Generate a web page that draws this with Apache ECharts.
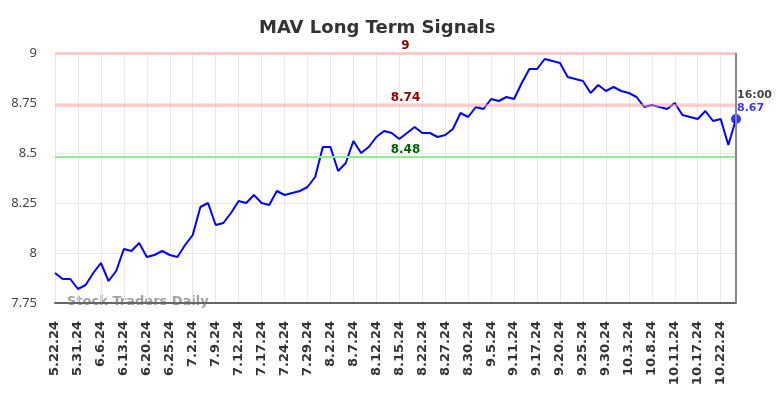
<!DOCTYPE html>
<html><head><meta charset="utf-8">
<script src="https://cdn.jsdelivr.net/npm/echarts@6/dist/echarts.min.js"></script>
<style>html,body{margin:0;padding:0;background:#fff}#c{width:784px;height:398px}</style>
</head><body><div id="c"></div>
<script>
var categories = ["5.22.24","5.24.24","5.29.24","5.31.24","6.3.24","6.5.24","6.6.24","6.10.24","6.11.24","6.13.24",
"6.14.24","6.18.24","6.20.24","6.21.24","6.24.24","6.25.24","6.27.24","7.1.24","7.2.24","7.3.24",
"7.8.24","7.9.24","7.10.24","7.11.24","7.12.24","7.15.24","7.16.24","7.17.24","7.19.24","7.22.24",
"7.24.24","7.25.24","7.26.24","7.29.24","7.30.24","8.1.24","8.2.24","8.5.24","8.6.24","8.7.24",
"8.8.24","8.9.24","8.12.24","8.13.24","8.14.24","8.15.24","8.19.24","8.20.24","8.22.24","8.23.24",
"8.26.24","8.27.24","8.28.24","8.29.24","8.30.24","9.3.24","9.4.24","9.5.24","9.9.24","9.10.24",
"9.11.24","9.13.24","9.16.24","9.17.24","9.18.24","9.19.24","9.20.24","9.23.24","9.24.24","9.25.24",
"9.26.24","9.27.24","9.30.24","10.1.24","10.2.24","10.3.24","10.4.24","10.7.24","10.8.24","10.9.24",
"10.10.24","10.11.24","10.14.24","10.16.24","10.17.24","10.18.24","10.21.24","10.22.24","10.24.24","10.25.24"];
var prices = [7.90,7.87,7.87,7.82,7.84,7.90,7.95,7.86,7.91,8.02,
8.01,8.05,7.98,7.99,8.01,7.99,7.98,8.04,8.09,8.23,
8.25,8.14,8.15,8.20,8.26,8.25,8.29,8.25,8.24,8.31,
8.29,8.30,8.31,8.33,8.38,8.53,8.53,8.41,8.45,8.56,
8.50,8.53,8.58,8.61,8.60,8.57,8.60,8.63,8.60,8.60,
8.58,8.59,8.62,8.70,8.68,8.73,8.72,8.77,8.76,8.78,
8.77,8.85,8.92,8.92,8.97,8.96,8.95,8.88,8.87,8.86,
8.80,8.84,8.81,8.83,8.81,8.80,8.78,8.73,8.74,8.73,
8.72,8.75,8.69,8.68,8.67,8.71,8.66,8.67,8.54,8.67];
var resistanceLevels = [9, 8.74];
var supportLevels = [8.48];
var yTicks = [7.75, 9, 0.25]; // min, max, interval
var lastTime = "16:00";
var lastValue = 8.67;

var chart = echarts.init(document.getElementById('c'));
var n = categories.length;
var markData = [];
var lblBase = {show:true, position:'insideMiddleTop', distance:0, offset:[10,-1], fontWeight:'bold', fontSize:12, fontFamily:'DejaVu Sans'};
resistanceLevels.forEach(function(v){
  markData.push({yAxis: v, lineStyle:{color:'rgba(255,160,160,0.5)', width:3, type:'solid'},
    label:Object.assign({}, lblBase, {formatter:String(v), color:'#8b0000'})});
});
supportLevels.forEach(function(v){
  markData.push({yAxis: v, lineStyle:{color:'#90ee90', width:2, type:'solid'},
    label:Object.assign({}, lblBase, {formatter:String(v), color:'#006400'})});
});
markData.push({xAxis: categories[n-1], lineStyle:{color:'#888', width:2, type:'solid'}, label:{show:false}});

chart.setOption({
  animation:false,
  title:{text:'MAV Long Term Signals', left:254, top:14,
    textStyle:{fontSize:18, fontWeight:'bold', color:'#333', fontFamily:'DejaVu Sans'}},
  grid:{left:55, right:48, top:53, bottom:95},
  xAxis:{type:'category', data:categories, boundaryGap:false,
    axisLine:{lineStyle:{color:'#666', width:2}},
    axisTick:{show:false},
    axisLabel:{interval:2, rotate:90, margin:18, fontSize:13, fontWeight:'bold', color:'#333', fontFamily:'DejaVu Sans'},
    splitLine:{show:true, interval:2, lineStyle:{color:'#e8e8e8', width:1}}},
  yAxis:{type:'value', min:yTicks[0], max:yTicks[1], interval:yTicks[2],
    axisLine:{show:false}, axisTick:{show:false},
    axisLabel:{margin:18, fontSize:13, color:'#444', fontFamily:'Noto Sans',
      formatter:function(v){return String(Math.round(v*100)/100);}},
    splitLine:{lineStyle:{color:'#e8e8e8', width:1}}},
  graphic:[{type:'text', left:67, top:295, z:0,
    style:{text:'Stock Traders Daily', fill:'rgba(120,120,120,0.7)', font:'bold 13px DejaVu Sans'}}],
  series:[
    {type:'line', data:[], z:1, markLine:{symbol:'none', silent:true, data:markData}},
    {type:'line', data:prices, symbol:'none', lineStyle:{color:'#0000ff', width:2}, z:3},
    {type:'scatter', data:[[categories[n-1], lastValue]], symbolSize:10, itemStyle:{color:'#0000ff'}, z:4,
      label:{show:true, position:[6,-25], align:'left', verticalAlign:'top',
        formatter:'{a|'+lastTime+'}\n{b|'+lastValue+'}',
        rich:{a:{color:'#111', fontWeight:'bold', fontSize:11, fontFamily:'DejaVu Sans', lineHeight:13},
              b:{color:'#0000ff', fontWeight:'bold', fontSize:11, fontFamily:'DejaVu Sans', lineHeight:13}}}}]
});
</script></body></html>
